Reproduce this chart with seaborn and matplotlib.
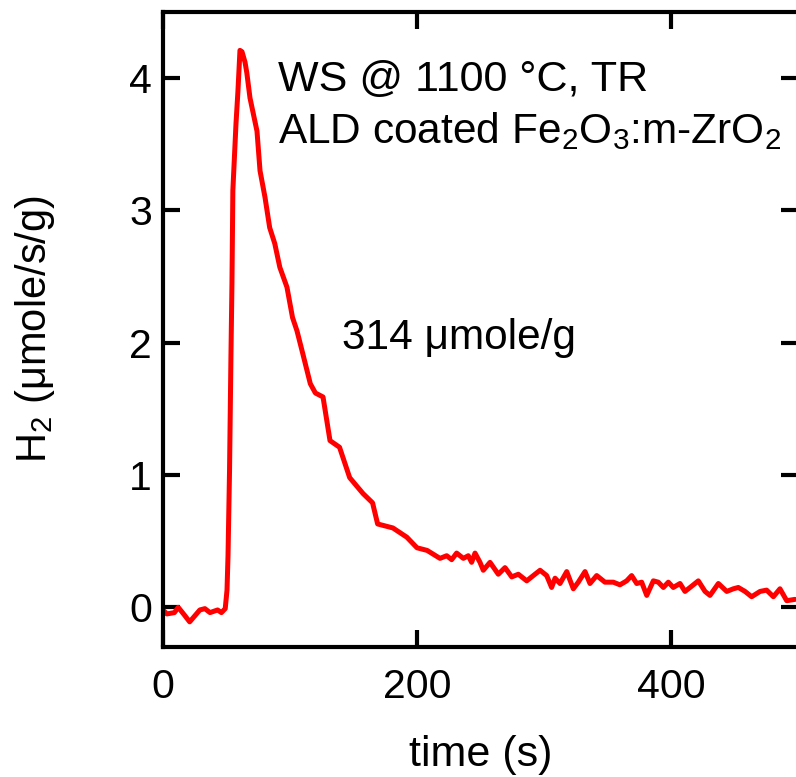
#H2 production curve during water splitting, ALD coated Fe2O3:m-ZrO2
import pandas as pd
import matplotlib
matplotlib.use('Agg')
import matplotlib.pyplot as plt
import seaborn as sns

# time (s) and H2 rate (umole/s/g)
time_s = [0, 3, 9, 12, 17, 21, 29, 33, 37, 43, 46, 49,
          50.4, 51.2, 52.4, 53.5, 54.3, 55, 57.5, 59, 60.6, 62.2, 64.6, 66, 68.5,
          74, 76.4, 80.3, 84, 88, 92, 97.6, 102, 105.5, 110, 116, 120, 126,
          131.5, 139, 147, 157.5, 165, 169, 181, 192, 200, 208,
          218.1, 223.4, 227.3, 231.2, 236.5, 240.4, 243.0, 245.7, 249.6, 252.2,
          257.5, 264.0, 269.3, 274.6, 279.8, 286.4, 291.6, 296.9, 302.1, 306.0,
          308.7, 312.6, 317.9, 323.1, 327.0, 332.3, 336.2, 341.5, 348.0, 354.6,
          359.8, 365.1, 369.0, 373.0, 376.9, 380.9, 386.1, 390.0, 394.0, 397.9,
          401.8, 407.1, 411.0, 415.0, 421.5, 426.8, 430.7, 437.3, 443.9, 449.1,
          453.0, 458.3, 463.5, 470.1, 475.3, 480.6, 485.8, 491.1, 497.6]
h2_rate = [-0.02, -0.05, -0.04, 0.0, -0.06, -0.11, -0.02, -0.01, -0.04, -0.02, -0.04, -0.01,
           0.13, 0.39, 1.04, 1.9, 2.45, 3.15, 3.66, 3.9, 4.21, 4.2, 4.12, 4.04, 3.85,
           3.6, 3.3, 3.1, 2.87, 2.75, 2.57, 2.42, 2.19, 2.09, 1.92, 1.69, 1.62, 1.59,
           1.26, 1.21, 0.98, 0.86, 0.79, 0.63, 0.60, 0.53, 0.45, 0.43,
           0.37, 0.39, 0.36, 0.41, 0.37, 0.39, 0.34, 0.41, 0.34, 0.28,
           0.34, 0.25, 0.30, 0.23, 0.25, 0.20, 0.24, 0.28, 0.24, 0.15,
           0.22, 0.18, 0.27, 0.14, 0.19, 0.27, 0.18, 0.24, 0.19, 0.19,
           0.17, 0.20, 0.24, 0.18, 0.19, 0.09, 0.20, 0.19, 0.15, 0.19,
           0.15, 0.18, 0.12, 0.15, 0.20, 0.12, 0.09, 0.18, 0.12, 0.14,
           0.15, 0.12, 0.08, 0.12, 0.13, 0.08, 0.14, 0.05, 0.06]

x_ticks = [0, 200, 400]
y_ticks = [0, 1, 2, 3, 4]

df = pd.DataFrame({'time': time_s, 'h2': h2_rate})

sns.set_style("white")
plt.rcParams['font.family'] = ['Liberation Sans', 'DejaVu Sans']
plt.rcParams['mathtext.fontset'] = 'custom'
plt.rcParams['mathtext.rm'] = 'Liberation Sans'
plt.rcParams['mathtext.it'] = 'Liberation Sans:italic'
plt.rcParams['text.color'] = 'black'
plt.rcParams['axes.labelcolor'] = 'black'

fig = plt.figure(figsize=(7.96, 7.77), dpi=100)
ax = fig.add_axes([163 / 796, 130 / 777, 635 / 796, 635 / 777])

sns.lineplot(data=df, x='time', y='h2', color='#ff0000', linewidth=3.6, ax=ax)

ax.set_xlim(0, 500)
ax.set_ylim(-0.3, 4.5)
ax.set_xticks(x_ticks)
ax.set_yticks(y_ticks)
ax.tick_params(direction='in', length=12, width=3, labelsize=29.5,
               bottom=True, left=True, top=True, right=True, colors='black')
ax.tick_params(axis='x', pad=15)
ax.tick_params(axis='y', pad=8)
for s in ax.spines.values():
    s.set_linewidth(3)
    s.set_color('black')

ax.set_xlabel('time (s)', fontsize=31, labelpad=21)
ax.set_ylabel('H$_2$ (μmole/s/g)', fontsize=30, labelpad=52)

ax.text(0.181, 0.893, 'WS @ 1100 °C, TR', transform=ax.transAxes, fontsize=31, va='center')
ax.text(0.181, 0.812, 'ALD coated Fe$_2$O$_3$:m-ZrO$_2$', transform=ax.transAxes,
        fontsize=30.5, va='center')
ax.text(0.282, 0.487, '314 μmole/g', transform=ax.transAxes, fontsize=30.5, va='center')

fig.savefig('out.png', dpi=100)
